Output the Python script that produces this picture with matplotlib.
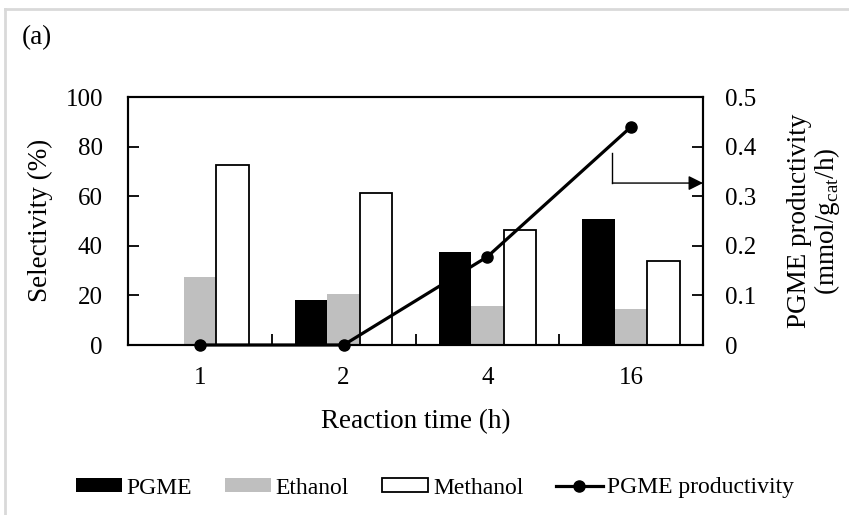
import numpy as np
import matplotlib
matplotlib.use('Agg')
import matplotlib.pyplot as plt
from matplotlib.lines import Line2D

# data
times = ['1', '2', '4', '16']
pgme = [0.0, 18.1, 37.4, 50.7]
ethanol = [27.3, 20.4, 15.9, 14.5]
methanol = [72.6, 61.2, 46.4, 33.9]
productivity = [0.0, 0.0, 0.178, 0.44]

plt.rcParams['font.family'] = ['Liberation Serif', 'DejaVu Serif']
plt.rcParams['mathtext.fontset'] = 'custom'
plt.rcParams['mathtext.rm'] = 'Liberation Serif'

fig = plt.figure(figsize=(8.49, 5.15), dpi=100)
ax = fig.add_axes([128/849, 1 - 345/515, 575/849, 248/515])
ax2 = ax.twinx()

x = np.arange(len(times))
w = 0.226
ax.bar(x - w, pgme, w, color='black', label='PGME', zorder=2)
ax.bar(x, ethanol, w, color='#bfbfbf', label='Ethanol', zorder=2)
ax.bar(x + w, methanol, w, color='white', edgecolor='black', linewidth=1.3,
       label='Methanol', zorder=2)

ax2.plot(x, productivity, color='black', lw=2.3, marker='o', ms=8,
         clip_on=False, zorder=5, label='PGME productivity')

ax.set_xlim(-0.5, len(times) - 0.5)
ax.set_ylim(0, 100)
ax2.set_ylim(0, 0.5)
ax.set_yticks(np.arange(0, 101, 20))
ax2.set_yticks(np.arange(0, 0.51, 0.1))
ax2.set_yticklabels(['0', '0.1', '0.2', '0.3', '0.4', '0.5'])

ax.set_xticks(x)
ax.set_xticklabels(times)
ax.set_xticks(x[:-1] + 0.5, minor=True)
ax.tick_params(axis='x', which='major', length=0, pad=16, labelsize=18)
ax.tick_params(axis='x', which='minor', direction='in', length=8, width=1.3)
ax.tick_params(axis='y', direction='in', length=8, width=1.3, pad=18, labelsize=18)
ax2.tick_params(axis='y', direction='in', length=8, width=1.3, pad=16, labelsize=18)

for a in (ax, ax2):
    for s in a.spines.values():
        s.set_linewidth(1.5)
        s.set_color('black')

ax.set_xlabel('Reaction time (h)', fontsize=19.5, labelpad=14)
fig.text(40/849, 1 - 220/515, 'Selectivity (%)', rotation=90, fontsize=19.5,
         ha='center', va='center')
fig.text(815/849, 1 - 221/515,
         'PGME productivity\n(mmol/g$_{\\mathregular{cat}}$/h)',
         rotation=90, fontsize=19.5, ha='center', va='center', linespacing=1.0)
fig.text(22/849, 1 - 38/515, '(a)', fontsize=19.5, ha='left', va='center')

# arrow pointing to the right axis
arrow_x, arrow_top, arrow_y = 2.87, 77.5, 65.3
ax.plot([arrow_x, arrow_x], [arrow_top, arrow_y], color='black', lw=1, zorder=4)
ax.annotate('', xy=(3.5, arrow_y), xytext=(arrow_x, arrow_y),
            arrowprops=dict(arrowstyle='-|>', color='black', lw=1,
                            mutation_scale=22, shrinkA=0, shrinkB=0),
            annotation_clip=False, zorder=4)

# light gray frame around the figure
fig.add_artist(Line2D([5/849, 1], [1 - 9/515, 1 - 9/515], color='#d9d9d9', lw=2))
fig.add_artist(Line2D([5/849, 5/849], [0, 1 - 9/515], color='#d9d9d9', lw=2))

h1, l1 = ax.get_legend_handles_labels()
h2, l2 = ax2.get_legend_handles_labels()
fig.legend(h1 + h2, l1 + l2, loc='center', bbox_to_anchor=(435/849, 1 - 488/515),
           ncol=4, frameon=False, fontsize=17, handlelength=1.95,
           handleheight=0.5, handletextpad=0.2, columnspacing=1.4)

fig.savefig('out.png', dpi=100)
